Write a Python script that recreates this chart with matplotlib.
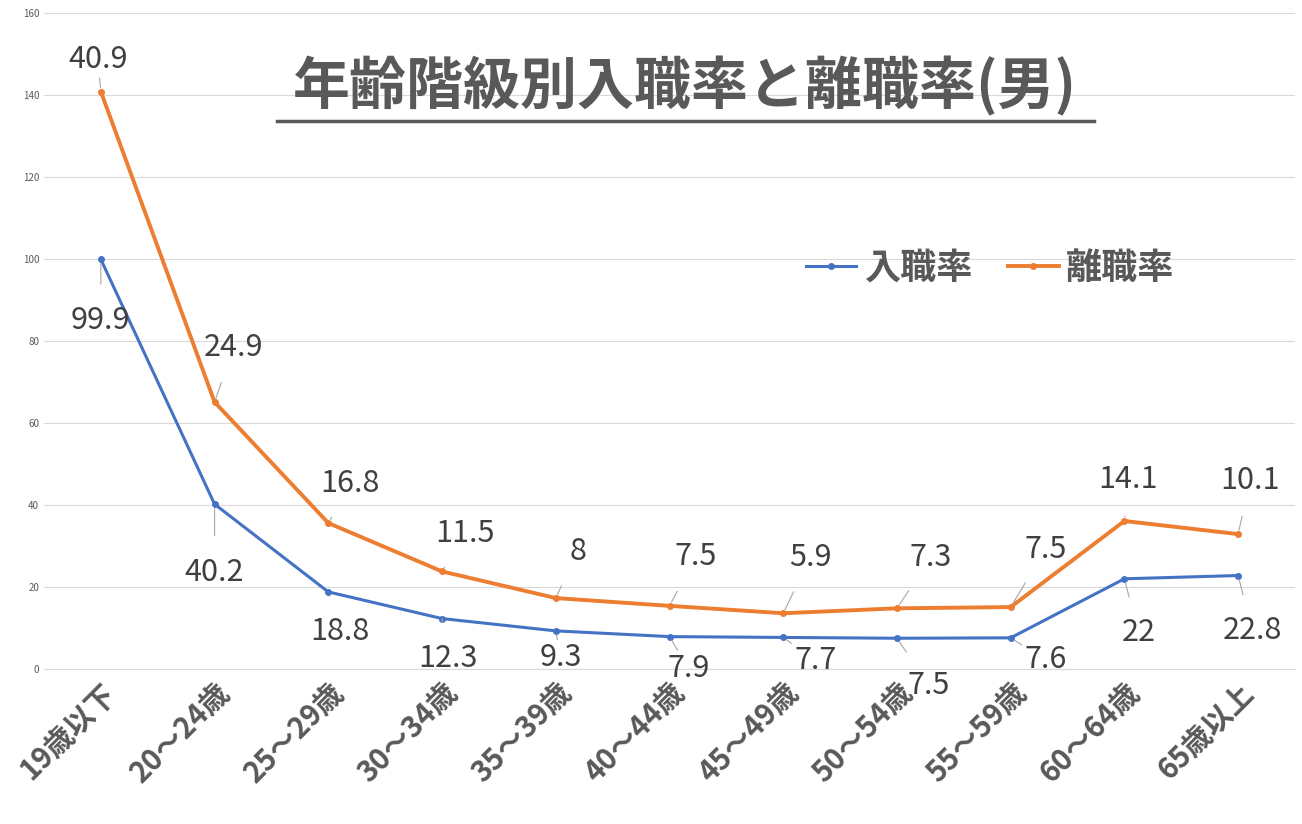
import matplotlib
matplotlib.use("Agg")
import matplotlib.pyplot as plt
import numpy as np

plt.rcParams["font.family"] = ["Noto Sans CJK JP", "DejaVu Sans"]

categories = ["19歳以下", "20～24歳", "25～29歳", "30～34歳", "35～39歳", "40～44歳",
              "45～49歳", "50～54歳", "55～59歳", "60～64歳", "65歳以上"]
hire = [99.9, 40.2, 18.8, 12.3, 9.3, 7.9, 7.7, 7.5, 7.6, 22, 22.8]
leave = [40.9, 24.9, 16.8, 11.5, 8, 7.5, 5.9, 7.3, 7.5, 14.1, 10.1]

blue_off = [(0, -61), (0, -68), (12, -40), (6, -40), (5, -27), (19, -32), (32, -23),
            (32, -47), (35, -22), (14, -54), (14, -55)]
orange_off = [(-3, 32), (19, 55), (22, 40), (23, 38), (22, 47), (26, 49), (27, 56),
              (34, 51), (35, 58), (4, 41), (12, 54)]

fig = plt.figure(figsize=(13.02, 8.24), dpi=100)
ax = fig.add_axes([44/1302, 1-669/824, 1251/1302, 656/824])
x = np.arange(len(categories))
top = np.array(hire) + np.array(leave)
blue, orange = "#4472C4", "#ED7D31"
ax.plot(x, hire, color=blue, lw=2.2, marker="o", ms=4, label="入職率")
ax.plot(x, top, color=orange, lw=2.8, marker="o", ms=4, label="離職率")
ax.set_xlim(-0.5, 10.5)
ax.set_ylim(0, 160)
ax.set_yticks(range(0, 161, 20))
ax.grid(axis="y", color="#D9D9D9", lw=0.8)
ax.set_axisbelow(True)
for s in ["top", "right", "left"]:
    ax.spines[s].set_visible(False)
ax.spines["bottom"].set_color("#D9D9D9")
ax.tick_params(axis="y", length=0, labelsize=7, labelcolor="#595959")
ax.tick_params(axis="x", length=0, pad=6)
ax.set_xticks(x)
ax.set_xticklabels(categories, rotation=45, ha="right", rotation_mode="anchor",
                   fontsize=21, fontweight="bold", color="#595959")

lp = dict(arrowstyle="-", color="#A6A6A6", lw=0.8, shrinkA=13, shrinkB=3)
for i in range(len(x)):
    ax.annotate(f"{hire[i]:g}", (x[i], hire[i]), xytext=blue_off[i], textcoords="offset pixels",
                ha="center", va="center", fontsize=22, color="#404040", arrowprops=lp)
    ax.annotate(f"{leave[i]:g}", (x[i], top[i]), xytext=orange_off[i], textcoords="offset pixels",
                ha="center", va="center", fontsize=22, color="#404040", arrowprops=lp)

fig.text(685/1302, 1-86/824, "年齢階級別入職率と離職率(男)", ha="center", va="center",
         fontsize=41, fontweight="bold", color="#595959")
fig.add_artist(plt.Line2D([277/1302, 1094/1302], [1-121/824]*2, color="#595959", lw=2.5))
ax.legend(loc="center", bbox_to_anchor=(990/1302, 1-268/824), bbox_transform=fig.transFigure,
          ncol=2, frameon=False, prop=dict(size=26, weight="bold"), labelcolor="#595959",
          handlelength=1.4, columnspacing=1.0, handletextpad=0.2)
fig.savefig("out.png", dpi=100)
